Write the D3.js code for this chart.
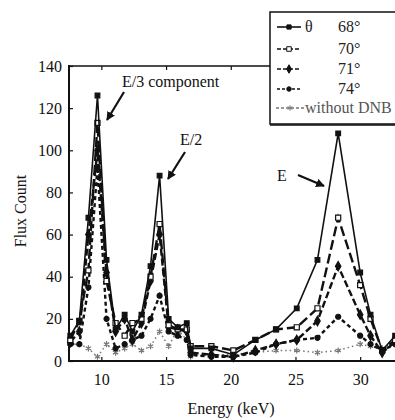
<!DOCTYPE html>
<html>
<head>
<meta charset="utf-8">
<script src="https://cdn.jsdelivr.net/npm/d3@7"></script>
<style>
  body { margin: 0; background: #fff; }
  text { font-family: "Liberation Serif", "Times New Roman", serif; }
</style>
</head>
<body>
<div id="chart"></div>
<script>
// energies (keV) shared by every series
var energy = [7.6, 8.3, 9.0, 9.7, 10.4, 11.1, 11.8, 12.4, 13.1, 13.8, 14.5, 15.2, 15.9, 16.6, 16.9, 18.5, 20.2, 21.9, 23.5, 25.1, 26.7, 28.3, 30.0, 30.8, 31.7, 32.7];

var flux68 = [12, 19, 68, 126, 48, 15, 22, 14, 22, 45, 88, 20, 16, 18, 6, 6, 3, 10, 15, 25, 48, 108, 42, 22, 5, 12];
var flux70 = [10, 19, 43, 113, 38, 18, 12, 18, 20, 40, 65, 17, 15, 15, 7, 7, 5, 10, 15, 16, 25, 68, 36, 20, 5, 10];
var flux71 = [9, 14, 60, 100, 42, 14, 20, 10, 18, 38, 60, 16, 15, 14, 4, 3, 2, 5, 8, 10, 19, 45, 22, 12, 4, 9];
var flux74 = [8, 8, 35, 92, 20, 6, 8, 10, 12, 20, 31, 14, 12, 10, 3, 2, 2, 4, 8, 10, 11, 21, 12, 8, 5, 8];
var fluxNone = [8, 8, 6, 2, 8, 4, 6, 8, 5, 7, 14, 7, 15, 10, 2, 3, 3, 4, 5, 5, 4, 5, 8, 7, 6, 9];

var seriesNames = ['68°', '70°', '71°', '74°', 'without DNB'];
var xTicks = [10, 15, 20, 25, 30];
var yTicks = [0, 20, 40, 60, 80, 100, 120, 140];

var width = 395, height = 420;
var svg = d3.select('#chart').append('svg')
  .attr('width', width).attr('height', height);

var x = d3.scaleLinear().domain([7.5, 33]).range([69, 399]);
var y = d3.scaleLinear().domain([0, 140]).range([361, 66]);

var styles = [
  {data: flux68, dash: null, sym: d3.symbolSquare, size: 22, fill: '#111', color: '#111', w: 1.6},
  {data: flux70, dash: '10,4', sym: d3.symbolSquare, size: 26, fill: '#fff', color: '#111', w: 2.4},
  {data: flux71, dash: '7,3', sym: d3.symbolDiamond, size: 26, fill: '#111', color: '#111', w: 2.4},
  {data: flux74, dash: '4,3', sym: d3.symbolCircle, size: 20, fill: '#111', color: '#111', w: 2.4},
  {data: fluxNone, dash: '1.5,3', sym: d3.symbolAsterisk, size: 26, fill: 'none', color: '#777', w: 1.5}
];

// frame
var frame = svg.append('g');
frame.append('line').attr('x1', 69).attr('x2', 69).attr('y1', 65).attr('y2', 362)
  .attr('stroke', '#111').attr('stroke-width', 2);
frame.append('line').attr('x1', 68).attr('x2', 400).attr('y1', 361).attr('y2', 361)
  .attr('stroke', '#111').attr('stroke-width', 2);
frame.append('line').attr('x1', 68).attr('x2', 400).attr('y1', 66).attr('y2', 66)
  .attr('stroke', '#111').attr('stroke-width', 1.6);

// axes, ticks pointing inward
var xAxis = svg.append('g').attr('transform', 'translate(0,361)')
  .call(d3.axisBottom(x).tickValues(xTicks).tickSizeInner(-4).tickSizeOuter(0).tickPadding(13));
var xTop = svg.append('g').attr('transform', 'translate(0,66)')
  .call(d3.axisTop(x).tickValues(xTicks).tickSizeInner(-4).tickSizeOuter(0).tickFormat(''));
var yAxis = svg.append('g').attr('transform', 'translate(69,0)')
  .call(d3.axisLeft(y).tickValues(yTicks).tickSizeInner(-4).tickSizeOuter(0).tickPadding(7));
[xAxis, xTop, yAxis].forEach(function (a) {
  a.select('.domain').remove();
  a.selectAll('.tick line').attr('stroke', '#111').attr('stroke-width', 1.2);
  a.selectAll('.tick text').attr('fill', '#111')
    .style('font-family', '"Liberation Serif", serif').style('font-size', '16px');
});

// series
var line = d3.line()
  .x(function (d, i) { return x(energy[i]); })
  .y(function (d) { return y(d); });

styles.slice().reverse().forEach(function (s) {
  svg.append('path')
    .datum(s.data)
    .attr('d', line)
    .attr('fill', 'none')
    .attr('stroke', s.color)
    .attr('stroke-width', s.w)
    .attr('stroke-dasharray', s.dash);
  svg.selectAll(null)
    .data(s.data)
    .enter()
    .append('path')
    .attr('transform', function (d, i) { return 'translate(' + x(energy[i]) + ',' + y(d) + ')'; })
    .attr('d', d3.symbol().type(s.sym).size(s.size))
    .attr('fill', s.fill)
    .attr('stroke', s.color)
    .attr('stroke-width', 1.2);
});

// annotations
svg.append('defs').append('marker')
  .attr('id', 'head').attr('viewBox', '0 0 10 10')
  .attr('refX', 9).attr('refY', 5)
  .attr('markerWidth', 4).attr('markerHeight', 4)
  .attr('orient', 'auto')
  .append('path').attr('d', 'M0,0 L10,5 L0,10 Z').attr('fill', '#111');

var notes = [
  {t: 'E/3 component', tx: 122, ty: 87, x1: 124, y1: 92, x2: 107, y2: 120},
  {t: 'E/2', tx: 180, ty: 145, x1: 185, y1: 152, x2: 168, y2: 179},
  {t: 'E', tx: 277, ty: 181, x1: 298, y1: 175, x2: 324, y2: 186}
];
notes.forEach(function (n) {
  svg.append('text').attr('x', n.tx).attr('y', n.ty)
    .style('font-size', '16px').attr('fill', '#111').text(n.t);
  svg.append('line').attr('x1', n.x1).attr('y1', n.y1).attr('x2', n.x2).attr('y2', n.y2)
    .attr('stroke', '#111').attr('stroke-width', 2.2).attr('marker-end', 'url(#head)');
});

// axis titles
svg.append('text')
  .attr('transform', 'translate(26,211) rotate(-90)')
  .attr('text-anchor', 'middle')
  .style('font-size', '16px').attr('fill', '#111')
  .text('Flux Count');
svg.append('text')
  .attr('x', 231).attr('y', 414)
  .attr('text-anchor', 'middle')
  .style('font-size', '16px').attr('fill', '#111')
  .text('Energy (keV)');

// legend
var legend = svg.append('g');
legend.append('rect')
  .attr('x', 270).attr('y', 12).attr('width', 140).attr('height', 112)
  .attr('fill', '#fff').attr('stroke', '#111').attr('stroke-width', 1.5);
legend.append('line').attr('x1', 270).attr('x2', 400).attr('y1', 125).attr('y2', 125)
  .attr('stroke', '#111').attr('stroke-width', 1.5);
var rowY = [27, 49, 69, 89, 108];
styles.forEach(function (s, i) {
  var ry = rowY[i];
  var x0 = i === 4 ? 276 : 277, x1 = i === 4 ? 304 : 301;
  legend.append('line').attr('x1', x0).attr('x2', x1).attr('y1', ry).attr('y2', ry)
    .attr('stroke', s.color).attr('stroke-width', Math.min(s.w, 1.6))
    .attr('stroke-dasharray', i === 0 ? null : (i === 1 || i === 2 ? '4,2' : '3,2'));
  legend.append('path')
    .attr('transform', 'translate(' + ((x0 + x1) / 2) + ',' + ry + ')')
    .attr('d', d3.symbol().type(s.sym).size(s.size * 0.8))
    .attr('fill', s.fill).attr('stroke', s.color).attr('stroke-width', 1);
  legend.append('text')
    .attr('x', i === 4 ? 305 : 338).attr('y', ry + 5)
    .style('font-size', '16px')
    .attr('fill', i === 4 ? '#555' : '#222')
    .text(seriesNames[i]);
});
legend.append('text').attr('x', 305).attr('y', 32)
  .style('font-size', '16px').attr('fill', '#222').text('θ');
</script>
</body>
</html>
